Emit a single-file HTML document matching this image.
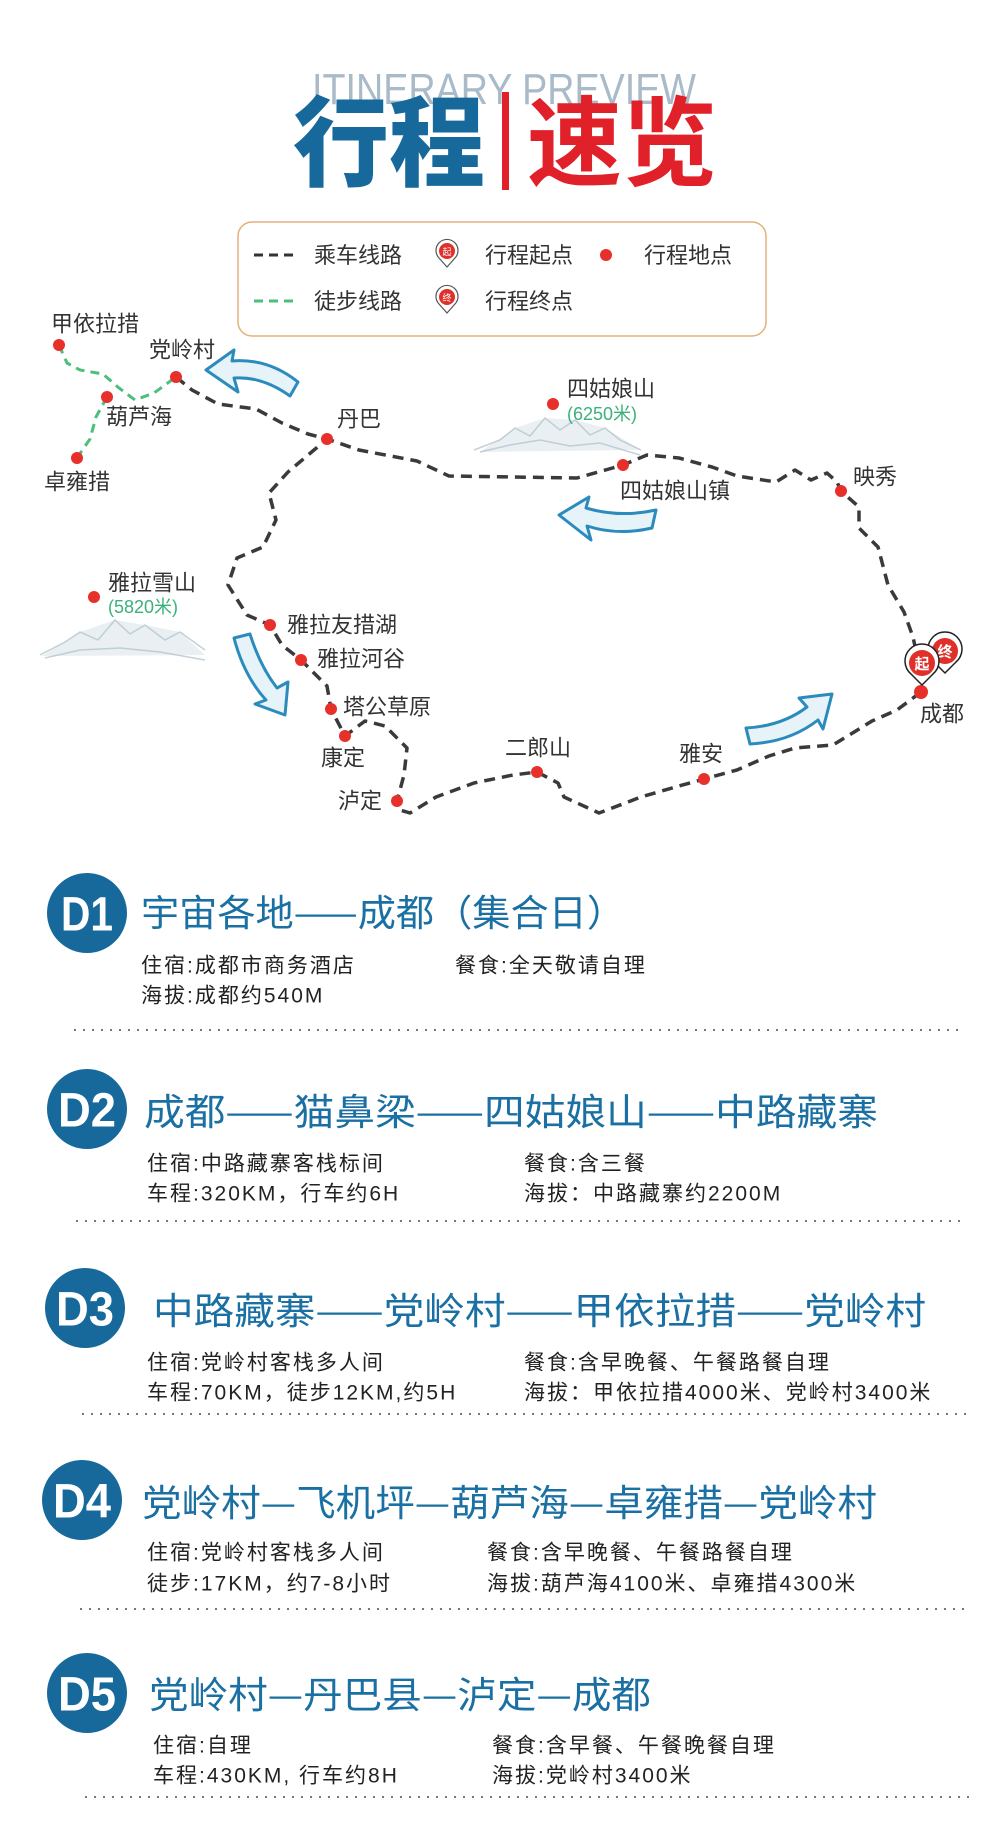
<!DOCTYPE html>
<html><head><meta charset="utf-8"><style>
html,body{margin:0;padding:0;background:#fff;}
svg{display:block;}
.cj{font-family:"Liberation Sans","Noto Sans CJK SC",sans-serif;}
</style></head><body>
<svg width="1000" height="1841" viewBox="0 0 1000 1841" xmlns="http://www.w3.org/2000/svg" class="cj">
<!-- header -->
<text x="312" y="104" font-family="Liberation Sans Narrow,Liberation Sans,sans-serif" font-size="44" fill="#a9bac8" textLength="384" lengthAdjust="spacingAndGlyphs">ITINERARY PREVIEW</text>
<text x="293" y="178" font-family="Noto Sans CJK SC,sans-serif" font-weight="900" font-size="98" fill="#17699c" textLength="192" lengthAdjust="spacingAndGlyphs">行程</text>
<rect x="502" y="92" width="7" height="98" fill="#e0212a"/>
<text x="527" y="178" font-family="Noto Sans CJK SC,sans-serif" font-weight="700" font-size="98" fill="#e0212a" textLength="190" lengthAdjust="spacingAndGlyphs">速览</text>

<!-- legend -->
<rect x="238" y="222" width="528" height="114" rx="14" fill="#fff" stroke="#e3b079" stroke-width="1.5"/>
<line x1="254" y1="255" x2="298" y2="255" stroke="#333" stroke-width="3" stroke-dasharray="9,6"/>
<line x1="254" y1="301" x2="298" y2="301" stroke="#4cbf7c" stroke-width="3" stroke-dasharray="9,6"/>
<g font-size="22" fill="#333">
<text x="314" y="263">乘车线路</text>
<text x="314" y="309">徒步线路</text>
<text x="485" y="263">行程起点</text>
<text x="485" y="309">行程终点</text>
<text x="644" y="263">行程地点</text>
</g>
<g>
<path d="M447 267 L439 258 A11 11 0 1 1 455 258 Z" fill="#fff" stroke="#555" stroke-width="1.2"/>
<circle cx="447" cy="251" r="8" fill="#e0302a"/>
<text x="447" y="255" font-size="9" fill="#fff" text-anchor="middle">起</text>
<path d="M447 313 L439 304 A11 11 0 1 1 455 304 Z" fill="#fff" stroke="#555" stroke-width="1.2"/>
<circle cx="447" cy="297" r="8" fill="#e0302a"/>
<text x="447" y="301" font-size="9" fill="#fff" text-anchor="middle">终</text>
<circle cx="606" cy="255" r="6" fill="#e8302a"/>
</g>

<!-- mountains -->
<g fill="#dfe8ec" opacity="0.7">
<path d="M480 452 L515 428 L545 418 L575 420 L605 428 L641 450 Z"/>
<path d="M42 656 L80 632 L115 620 L145 625 L180 632 L205 655 Z"/>
</g>
<g fill="none" stroke="#b5c6cf" stroke-width="1.5" opacity="0.8">
<path d="M474 450 L500 440 L515 428 L530 436 L545 418 L560 430 L575 420 L590 435 L605 428 L620 440 L641 450"/>
<path d="M480 452 L510 445 L540 440 L570 446 L600 443 L640 455"/>
<path d="M40 655 L65 642 L80 632 L98 640 L115 620 L130 634 L145 625 L165 640 L180 632 L205 650"/>
<path d="M45 658 L80 650 L120 648 L160 652 L205 660"/>
</g>

<!-- routes -->
<g fill="none" stroke="#3a3a3a" stroke-width="3.5" stroke-dasharray="11,7" stroke-linejoin="round">
<path d="M176 377 L192 390 L218 404 L256 409 L282 423 L308 434 L327 439 L359 450 L417 461 L449 476 L513 477 L577 478 L609 469 L623 465 L647 455 L679 458 L712 467 L737 476 L776 482 L795 470 L811 480 L827 473 L837 482 L841 491 L859 507 L859 528 L878 547 L888 585 L904 612 L913 637 L918 660"/>
<path d="M921 692 L897 710 L872 721 L833 745 L795 748 L769 756 L737 770 L704 779 L679 786 L641 797 L599 813 L564 797 L558 783 L537 772 L513 775 L474 783 L436 797 L410 813 L400 810 L397 801 L404 775 L407 748 L385 726 L365 721 L345 736 L331 709 L327 686 L301 660 L282 645 L270 625 L247 615 L228 585 L237 558 L263 547 L276 520 L269 493 L288 472 L314 450 L327 439"/>
</g>
<g fill="none" stroke="#4cbf7c" stroke-width="3" stroke-dasharray="9,6">
<path d="M59 345 L67 363 L80 370 L103 374 L119 388 L135 400 L154 393 L176 377"/>
<path d="M107 397 L96 417 L90 439 L77 458"/>
</g>

<!-- arrows -->
<g fill="#e6f3f8" stroke="#2b8bbd" stroke-width="3" stroke-linejoin="round">
<path d="M206 370 L234 350 L232 361 Q268 358 298 382 L290 396 Q262 376 234 378 L238 392 Z"/>
<path d="M559 515 L589 497 L586 508 Q620 518 656 510 L652 528 Q618 536 587 526 L591 540 Z"/>
<path d="M285 715 L288 682 L277 688 Q260 666 250 634 L234 638 Q244 676 266 700 L255 704 Z"/>
<path d="M832 694 L799 698 L807 707 Q782 726 746 728 L750 744 Q790 742 818 720 L823 729 Z"/>
</g>

<!-- dots -->
<g fill="#e8302a">
<circle cx="59" cy="345" r="6"/><circle cx="176" cy="377" r="6"/><circle cx="107" cy="397" r="6"/><circle cx="77" cy="458" r="6"/>
<circle cx="327" cy="439" r="6"/><circle cx="553" cy="404" r="6"/><circle cx="623" cy="465" r="6"/><circle cx="841" cy="491" r="6"/>
<circle cx="94" cy="597" r="6"/><circle cx="270" cy="625" r="6"/><circle cx="301" cy="660" r="6"/><circle cx="331" cy="709" r="6"/>
<circle cx="345" cy="736" r="6"/><circle cx="397" cy="801" r="6"/><circle cx="537" cy="772" r="6"/><circle cx="704" cy="779" r="6"/>
<circle cx="921" cy="692" r="7"/>
</g>
<!-- pins -->
<g>
<path d="M945 673 L934 662 A17 17 0 1 1 956 662 Z" fill="#fff" stroke="#222" stroke-width="1.5"/>
<circle cx="945" cy="651" r="13" fill="#e0302a"/>
<text x="945" y="657" font-size="15" font-weight="700" fill="#fff" text-anchor="middle">终</text>
<path d="M922 685 L911 674 A17 17 0 1 1 933 674 Z" fill="#fff" stroke="#222" stroke-width="1.5"/>
<circle cx="922" cy="663" r="13" fill="#e0302a"/>
<text x="922" y="669" font-size="15" font-weight="700" fill="#fff" text-anchor="middle">起</text>
</g>

<!-- map labels -->
<g font-size="22" fill="#333" dominant-baseline="central">
<text x="51" y="324">甲依拉措</text>
<text x="149" y="350">党岭村</text>
<text x="106" y="417">葫芦海</text>
<text x="44" y="482">卓雍措</text>
<text x="337" y="419">丹巴</text>
<text x="567" y="389">四姑娘山</text>
<text x="620" y="491">四姑娘山镇</text>
<text x="853" y="477">映秀</text>
<text x="108" y="583">雅拉雪山</text>
<text x="287" y="625">雅拉友措湖</text>
<text x="317" y="659">雅拉河谷</text>
<text x="343" y="707">塔公草原</text>
<text x="321" y="758">康定</text>
<text x="338" y="801">泸定</text>
<text x="505" y="748">二郎山</text>
<text x="679" y="754">雅安</text>
<text x="920" y="714">成都</text>
</g>
<g font-size="18" fill="#3bb17a" dominant-baseline="central">
<text x="567" y="414">(6250米)</text>
<text x="108" y="607">(5820米)</text>
</g>

<!-- days -->
<g fill="#17699c">
<circle cx="87" cy="913" r="40"/><circle cx="87" cy="1109" r="40"/><circle cx="85" cy="1308" r="40"/><circle cx="82" cy="1500" r="40"/><circle cx="87" cy="1693" r="40"/>
</g>
<g font-family="Liberation Sans,sans-serif" font-size="48" font-weight="700" fill="#fff" text-anchor="middle" dominant-baseline="central">
<text x="87" y="915" textLength="52" lengthAdjust="spacingAndGlyphs">D1</text>
<text x="87" y="1111" textLength="58" lengthAdjust="spacingAndGlyphs">D2</text>
<text x="85" y="1310" textLength="58" lengthAdjust="spacingAndGlyphs">D3</text>
<text x="82" y="1502" textLength="58" lengthAdjust="spacingAndGlyphs">D4</text>
<text x="87" y="1695" textLength="58" lengthAdjust="spacingAndGlyphs">D5</text>
</g>
<g font-family="Noto Sans CJK SC,sans-serif" font-size="37" fill="#1a6fa3" dominant-baseline="central">
<text x="141" y="910" textLength="484" lengthAdjust="spacingAndGlyphs">宇宙各地——成都（集合日）</text>
<text x="144" y="1109" textLength="734" lengthAdjust="spacingAndGlyphs">成都——猫鼻梁——四姑娘山——中路藏寨</text>
<text x="153" y="1308" textLength="773" lengthAdjust="spacingAndGlyphs">中路藏寨——党岭村——甲依拉措——党岭村</text>
<text x="142" y="1500" textLength="735" lengthAdjust="spacingAndGlyphs">党岭村—飞机坪—葫芦海—卓雍措—党岭村</text>
<text x="149" y="1692" textLength="502" lengthAdjust="spacingAndGlyphs">党岭村—丹巴县—泸定—成都</text>
</g>
<g font-size="21" fill="#222" dominant-baseline="central" letter-spacing="2">
<text x="141" y="966">住宿:成都市商务酒店</text>
<text x="455" y="966">餐食:全天敬请自理</text>
<text x="141" y="996">海拔:成都约540M</text>
<text x="147" y="1164">住宿:中路藏寨客栈标间</text>
<text x="524" y="1164">餐食:含三餐</text>
<text x="147" y="1194">车程:320KM，行车约6H</text>
<text x="524" y="1194">海拔：中路藏寨约2200M</text>
<text x="147" y="1363">住宿:党岭村客栈多人间</text>
<text x="524" y="1363">餐食:含早晚餐、午餐路餐自理</text>
<text x="147" y="1393">车程:70KM，徒步12KM,约5H</text>
<text x="524" y="1393">海拔：甲依拉措4000米、党岭村3400米</text>
<text x="147" y="1553">住宿:党岭村客栈多人间</text>
<text x="487" y="1553">餐食:含早晚餐、午餐路餐自理</text>
<text x="147" y="1584">徒步:17KM，约7-8小时</text>
<text x="487" y="1584">海拔:葫芦海4100米、卓雍措4300米</text>
<text x="153" y="1746">住宿:自理</text>
<text x="492" y="1746">餐食:含早餐、午餐晚餐自理</text>
<text x="153" y="1776">车程:430KM, 行车约8H</text>
<text x="492" y="1776">海拔:党岭村3400米</text>
</g>
<g stroke="#777" stroke-width="2" stroke-dasharray="2,7">
<line x1="74" y1="1030" x2="962" y2="1030"/>
<line x1="76" y1="1221" x2="966" y2="1221"/>
<line x1="82" y1="1414" x2="971" y2="1414"/>
<line x1="80" y1="1609" x2="970" y2="1609"/>
<line x1="85" y1="1797" x2="975" y2="1797"/>
</g>
</svg>
</body></html>
